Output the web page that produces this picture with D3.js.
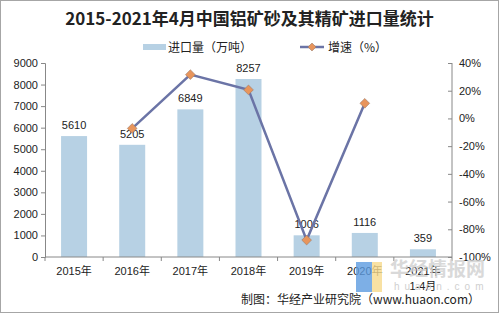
<!DOCTYPE html>
<html>
<head>
<meta charset="utf-8">
<script src="https://cdn.jsdelivr.net/npm/d3@7"></script>
<style>
  body { margin: 0; background: #fff; }
  svg { display: block; font-family: Arial, "Liberation Sans", "Noto Sans CJK SC", sans-serif; }
</style>
</head>
<body>
<svg id="chart"></svg>
<script>
const years = ["2015年", "2016年", "2017年", "2018年", "2019年", "2020年", "2021年"];
const volume = [5610, 5205, 6849, 8257, 1006, 1116, 359];
const growth = [null, -7.2, 31.6, 20.6, -87.8, 10.9, null];
const leftTicks = [0, 1000, 2000, 3000, 4000, 5000, 6000, 7000, 8000, 9000];
const rightTicks = [-100, -80, -60, -40, -20, 0, 20, 40];

const width = 499, height = 313;
const margin = { top: 63, right: 47, bottom: 56, left: 45 };

const svg = d3.select("#chart")
  .attr("width", width)
  .attr("height", height);

svg.append("rect")
  .attr("x", 0.5).attr("y", 0.5)
  .attr("width", width - 1).attr("height", height - 1)
  .attr("fill", "#fff")
  .attr("stroke", "#a6a6a6");

const x = d3.scaleBand()
  .domain(years)
  .range([margin.left, width - margin.right]);

const yL = d3.scaleLinear()
  .domain([0, 9000])
  .range([height - margin.bottom, margin.top]);

const yR = d3.scaleLinear()
  .domain([-100, 40])
  .range([height - margin.bottom, margin.top]);

// title
svg.append("text")
  .attr("x", width / 2).attr("y", 25)
  .attr("text-anchor", "middle")
  .style("font-family", "'Noto Sans CJK SC', sans-serif")
  .style("font-weight", "bold")
  .style("font-size", "17px")
  .attr("fill", "#222")
  .text("2015-2021年4月中国铝矿砂及其精矿进口量统计");

// legend
const legend = svg.append("g").style("font-family", "'Noto Sans CJK SC', sans-serif").style("font-size", "12px");
legend.append("rect").attr("x", 143).attr("y", 44).attr("width", 23).attr("height", 6).attr("fill", "#b7d1e4");
legend.append("text").attr("x", 168).attr("y", 52).attr("fill", "#222").text("进口量（万吨）");
legend.append("line").attr("x1", 300).attr("x2", 324).attr("y1", 47).attr("y2", 47)
  .attr("stroke", "#6b74a6").attr("stroke-width", 2.5);
legend.append("path").attr("d", d3.symbol(d3.symbolDiamond2, 40)()).attr("transform", "translate(312,47)")
  .attr("fill", "#e8955c").attr("stroke", "#9c7a68").attr("stroke-width", 0.6);
legend.append("text").attr("x", 328).attr("y", 52).attr("fill", "#222").text("增速（%）");

// bars
svg.append("g").selectAll("rect")
  .data(years)
  .join("rect")
  .attr("x", (d) => x(d) + (x.bandwidth() - 26) / 2)
  .attr("width", 26)
  .attr("y", (d, i) => yL(volume[i]))
  .attr("height", (d, i) => yL(0) - yL(volume[i]))
  .attr("fill", "#b7d1e4");

// bar labels
svg.append("g").selectAll("text")
  .data(years)
  .join("text")
  .attr("x", (d) => x(d) + x.bandwidth() / 2)
  .attr("y", (d, i) => yL(volume[i]) - 7)
  .attr("text-anchor", "middle")
  .style("font-size", "11px")
  .attr("fill", "#222")
  .text((d, i) => volume[i]);

// left axis
const axL = svg.append("g")
  .attr("transform", `translate(${margin.left},0)`)
  .call(d3.axisLeft(yL).tickValues(leftTicks).tickSize(4).tickPadding(3).tickFormat(d3.format("d")));
axL.selectAll("text").style("font-size", "11px").attr("fill", "#222");
axL.selectAll("line, path").attr("stroke", "#888");

// right axis
const axR = svg.append("g")
  .attr("transform", `translate(${width - margin.right},0)`)
  .call(d3.axisRight(yR).tickValues(rightTicks).tickSize(-4).tickPadding(7).tickFormat((d) => d + "%"));
axR.select(".domain").attr("d", `M0,${yR(-100)}V${yR(40)}`);
axR.selectAll("text").style("font-size", "11px").attr("fill", "#222");
axR.selectAll("line, path").attr("stroke", "#888");

// x axis
const axX = svg.append("g")
  .attr("transform", `translate(0,${yL(0)})`);
axX.append("line")
  .attr("x1", margin.left).attr("x2", width - margin.right)
  .attr("stroke", "#888");
axX.selectAll("line.tick")
  .data(years.concat(["end"]))
  .join("line")
  .attr("class", "tick")
  .attr("x1", (d, i) => margin.left + i * x.step())
  .attr("x2", (d, i) => margin.left + i * x.step())
  .attr("y1", 0).attr("y2", 4)
  .attr("stroke", "#888");
axX.selectAll("text")
  .data(years)
  .join("text")
  .attr("x", (d) => x(d) + x.bandwidth() / 2)
  .attr("y", 18)
  .attr("text-anchor", "middle")
  .style("font-size", "11px")
  .attr("fill", "#222")
  .text((d) => d);
axX.append("text")
  .attr("x", x("2021年") + x.bandwidth() / 2)
  .attr("y", 33)
  .attr("text-anchor", "middle")
  .style("font-size", "11px")
  .attr("fill", "#222")
  .text("1-4月");

// growth line
const pts = years.map((d, i) => ({ year: d, v: growth[i] })).filter((d) => d.v !== null);
const line = d3.line()
  .x((d) => x(d.year) + x.bandwidth() / 2)
  .y((d) => yR(d.v));
svg.append("path")
  .datum(pts)
  .attr("d", line)
  .attr("fill", "none")
  .attr("stroke", "#6b74a6")
  .attr("stroke-width", 2.5);
svg.append("g").selectAll("path")
  .data(pts)
  .join("path")
  .attr("d", d3.symbol(d3.symbolDiamond2, 60)())
  .attr("transform", (d) => `translate(${x(d.year) + x.bandwidth() / 2},${yR(d.v)})`)
  .attr("fill", "#e8955c")
  .attr("stroke", "#9c7a68")
  .attr("stroke-width", 0.6);

// watermark
svg.append("rect").attr("x", 356).attr("y", 262).attr("width", 16).attr("height", 30).attr("fill", "#5c9be0").attr("opacity", 0.8);
svg.append("rect").attr("x", 372).attr("y", 262).attr("width", 10).attr("height", 30).attr("fill", "#f6d98c").attr("opacity", 0.8);
svg.append("text")
  .attr("x", 390).attr("y", 276)
  .style("font-family", "'Noto Sans CJK SC', sans-serif")
  .style("font-size", "19px")
  .style("font-weight", "bold")
  .attr("fill", "#d0d0d0")
  .attr("opacity", 0.8)
  .text("华经情报网");
svg.append("text")
  .attr("x", 394).attr("y", 290)
  .style("font-size", "10px")
  .style("letter-spacing", "5px")
  .attr("fill", "#d0d0d0")
  .text("huaon.com");

// source
svg.append("text")
  .attr("x", 480).attr("y", 304)
  .attr("text-anchor", "end")
  .style("font-family", "'Noto Sans CJK SC', sans-serif")
  .style("font-size", "12px")
  .attr("fill", "#222")
  .text("制图：华经产业研究院（www.huaon.com）");
</script>
</body>
</html>
